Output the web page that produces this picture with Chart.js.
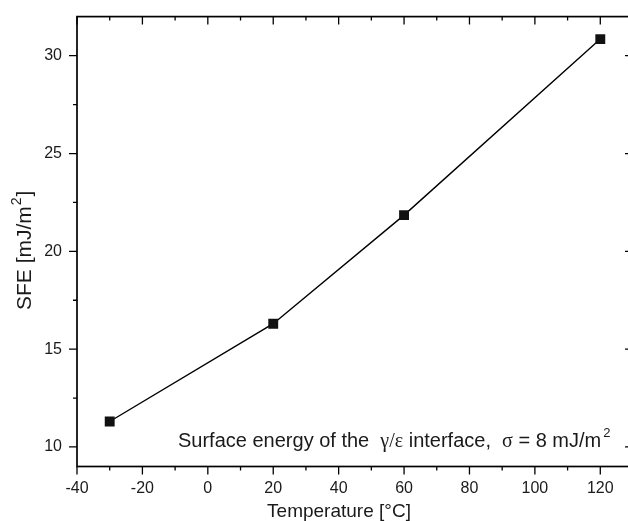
<!DOCTYPE html>
<html>
<head>
<meta charset="utf-8">
<script src="https://cdn.jsdelivr.net/npm/chart.js@4/dist/chart.umd.min.js"></script>
<style>
  html, body { margin: 0; padding: 0; background: #fff; overflow: hidden; }
  #wrap { width: 628px; height: 521px; overflow: hidden; }
</style>
</head>
<body>
<div id="wrap"><canvas id="chart" width="640" height="521"></canvas></div>
<script>
// data
const temperature = [-30, 20, 60, 120];
const sfe = [11.3, 16.3, 21.85, 30.85];

// axis ticks
const xMajorTicks = [-40, -20, 0, 20, 40, 60, 80, 100, 120];
const xMinorTicks = [-30, -10, 10, 30, 50, 70, 90, 110, 130];
const yMajorTicks = [10, 15, 20, 25, 30];
const yMinorTicks = [12.5, 17.5, 22.5, 27.5];

const sans = '"Liberation Sans", Arial, Helvetica, sans-serif';
const serif = '"Liberation Serif", "Times New Roman", serif';
const ink = '#1a1a1a';

// frame, ticks on all four sides, axis titles and the note
const framePlugin = {
  id: 'frame',
  afterDraw(chart) {
    const { ctx, chartArea: a, scales: { x, y } } = chart;
    ctx.save();
    ctx.strokeStyle = '#000';
    ctx.lineWidth = 1.7;
    ctx.strokeRect(a.left, a.top, a.right - a.left, a.bottom - a.top);

    ctx.lineWidth = 1.3;
    ctx.beginPath();
    const xTick = (v, len) => {
      const px = x.getPixelForValue(v);
      ctx.moveTo(px, a.bottom); ctx.lineTo(px, a.bottom + len);
      ctx.moveTo(px, a.top); ctx.lineTo(px, a.top + len);
    };
    const yTick = (v, len) => {
      const py = y.getPixelForValue(v);
      ctx.moveTo(a.left, py); ctx.lineTo(a.left - len, py);
      ctx.moveTo(a.right, py); ctx.lineTo(a.right - len, py);
    };
    xMajorTicks.forEach(v => xTick(v, 8));
    xMinorTicks.forEach(v => xTick(v, 4));
    yMajorTicks.forEach(v => yTick(v, 8));
    yMinorTicks.forEach(v => yTick(v, 4));
    ctx.stroke();

    ctx.fillStyle = ink;
    // x title
    ctx.font = '19px ' + sans;
    ctx.textAlign = 'center';
    ctx.textBaseline = 'alphabetic';
    ctx.fillText('Temperature [°C]', 339, 517);

    // y title, rotated, with superscript
    ctx.save();
    ctx.translate(31, 310);
    ctx.rotate(-Math.PI / 2);
    ctx.textAlign = 'left';
    let cx = 0;
    ctx.font = '21px ' + sans;
    ctx.fillText('SFE [mJ/m', cx, 0);
    cx += ctx.measureText('SFE [mJ/m').width;
    ctx.font = '14px ' + sans;
    ctx.fillText('2', cx + 1, -10);
    cx += ctx.measureText('2').width + 2;
    ctx.font = '21px ' + sans;
    ctx.fillText(']', cx, 0);
    ctx.restore();

    // note inside the plot
    const note = [
      { t: 'Surface energy of the  ', f: sans },
      { t: 'γ/ε', f: serif },
      { t: ' interface,  ', f: sans },
      { t: 'σ', f: serif },
      { t: ' = 8 mJ/m', f: sans },
      { t: '2', f: sans, sup: true }
    ];
    ctx.textAlign = 'left';
    let nx = 178;
    note.forEach(p => {
      ctx.font = (p.sup ? '13px ' : '20px ') + p.f;
      ctx.fillText(p.t, p.sup ? nx + 2 : nx, p.sup ? 437 : 446.5);
      nx += ctx.measureText(p.t).width;
    });
    ctx.restore();
  }
};

new Chart(document.getElementById('chart'), {
  type: 'line',
  data: {
    datasets: [{
      data: temperature.map((t, i) => ({ x: t, y: sfe[i] })),
      borderColor: '#000',
      borderWidth: 1.4,
      pointStyle: 'rect',
      pointRadius: 7,
      pointBorderWidth: 0,
      pointBackgroundColor: '#111',
      tension: 0
    }]
  },
  options: {
    responsive: false,
    animation: false,
    devicePixelRatio: 1,
    layout: { padding: { top: 12.5, right: 5.5, left: 0, bottom: 0 } },
    plugins: { legend: { display: false }, tooltip: { enabled: false } },
    scales: {
      x: {
        type: 'linear',
        min: -40,
        max: 130,
        afterFit: s => { s.height = 54.5; },
        afterBuildTicks: s => { s.ticks = xMajorTicks.map(v => ({ value: v })); },
        grid: { display: false, drawTicks: true, tickLength: 8 },
        border: { display: false },
        ticks: {
          padding: 4,
          maxRotation: 0,
          autoSkip: false,
          color: ink,
          font: { family: sans, size: 16 }
        }
      },
      y: {
        min: 9,
        max: 32,
        afterFit: s => { s.width = 77; },
        afterBuildTicks: s => { s.ticks = yMajorTicks.map(v => ({ value: v })); },
        grid: { display: false, drawTicks: true, tickLength: 8 },
        border: { display: false },
        ticks: {
          padding: 7,
          autoSkip: false,
          color: ink,
          font: { family: sans, size: 16 }
        }
      }
    }
  },
  plugins: [framePlugin]
});
</script>
</body>
</html>
